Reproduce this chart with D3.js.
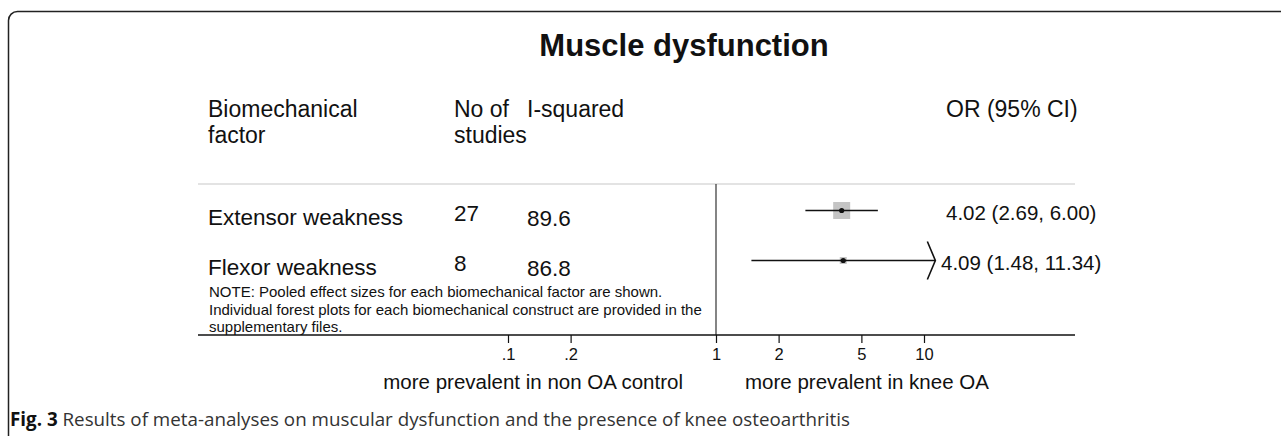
<!DOCTYPE html>
<html>
<head>
<meta charset="utf-8">
<script src="https://cdn.jsdelivr.net/npm/d3@7"></script>
<style>
  body { margin: 0; background: #fff; }
  svg { display: block; }
  .txt { font-family: 'Liberation Sans', Arial, sans-serif; fill: #111; }
</style>
</head>
<body>
<div id="chart"></div>
<script>
// pooled estimates, one row per biomechanical factor
const factors = ['Extensor weakness', 'Flexor weakness']
const nStudies = ['27', '8']
const iSquared = ['89.6', '86.8']
const orValues = [4.02, 4.09]
const ciLow = [2.69, 1.48]
const ciHigh = [6.00, 11.34]
const weights = [85.5, 14.5]

const tickValues = [0.1, 0.2, 1, 2, 5, 10]
const tickLabels = ['.1', '.2', '1', '2', '5', '10']
const axisTop = 10

const headers = [
  { lines: ['Biomechanical', 'factor'], x: 208 },
  { lines: ['No of', 'studies'], x: 454 },
  { lines: ['I-squared'], x: 527 },
  { lines: ['OR (95% CI)'], x: 946 }
]
const noteLines = [
  'NOTE: Pooled effect sizes for each biomechanical factor are shown.',
  'Individual forest plots for each biomechanical construct are provided in the',
  'supplementary files.'
]

const W = 1281, H = 436
const plotLeft = 198, plotRight = 1075
const ruleY = 184, axisY = 335

const fmt = d3.format('.2f')

const svg = d3.select('#chart')
  .append('svg')
  .attr('width', W)
  .attr('height', H)

// frame round the figure
svg.append('rect')
  .attr('x', 8.5).attr('y', 11.5)
  .attr('width', 1320).attr('height', 460)
  .attr('rx', 9)
  .attr('fill', 'none')
  .attr('stroke', '#222')
  .attr('stroke-width', 1.5)

svg.append('text')
  .classed('txt', true)
  .attr('x', 684).attr('y', 56)
  .attr('text-anchor', 'middle')
  .style('font-size', '31px')
  .style('font-weight', 'bold')
  .text('Muscle dysfunction')

// column headers
headers.forEach(h => {
  const t = svg.append('text')
    .classed('txt', true)
    .attr('y', 117)
    .style('font-size', '23px')
  h.lines.forEach((l, i) => {
    t.append('tspan')
      .attr('x', h.x)
      .attr('dy', i ? 26 : 0)
      .text(l)
  })
})

const x = d3.scaleLog()
  .domain([0.1, 10])
  .range([508, 924])

const y = d3.scalePoint()
  .domain(factors)
  .range([210.5, 260.5])

const boxSize = d3.scaleSqrt()
  .domain([0, d3.max(weights)])
  .range([0, 17])

// top rule and null line
svg.append('line')
  .attr('x1', plotLeft).attr('x2', plotRight)
  .attr('y1', ruleY).attr('y2', ruleY)
  .attr('stroke', '#c8c8c8')
  .attr('stroke-width', 1.2)

svg.append('line')
  .attr('x1', x(1)).attr('x2', x(1))
  .attr('y1', ruleY).attr('y2', axisY)
  .attr('stroke', '#333')
  .attr('stroke-width', 1.2)

const rows = factors.map((f, i) => ({
  name: f, n: nStudies[i], i2: iSquared[i],
  or: orValues[i], lo: ciLow[i], hi: ciHigh[i], w: weights[i]
}))

const row = svg.selectAll('g.row')
  .data(rows)
  .enter().append('g')
  .classed('row', true)

row.append('text')
  .classed('txt', true)
  .attr('x', 208)
  .attr('y', d => y(d.name) + 14)
  .style('font-size', '22.5px')
  .text(d => d.name)

row.append('text')
  .classed('txt', true)
  .attr('x', 454)
  .attr('y', d => y(d.name) + 10.5)
  .style('font-size', '22.5px')
  .text(d => d.n)

row.append('text')
  .classed('txt', true)
  .attr('x', 527)
  .attr('y', d => y(d.name) + 15)
  .style('font-size', '22.5px')
  .text(d => d.i2)

row.append('text')
  .classed('txt', true)
  .attr('x', d => d.hi > axisTop ? 941 : 946)
  .attr('y', d => y(d.name) + 9)
  .style('font-size', '20.5px')
  .text(d => fmt(d.or) + ' (' + fmt(d.lo) + ', ' + fmt(d.hi) + ')')

row.append('rect')
  .attr('x', d => x(d.or) - boxSize(d.w) / 2)
  .attr('y', d => y(d.name) - boxSize(d.w) / 2)
  .attr('width', d => boxSize(d.w))
  .attr('height', d => boxSize(d.w))
  .attr('fill', '#c4c4c4')

row.append('line')
  .attr('x1', d => x(d.lo)).attr('x2', d => x(d.hi))
  .attr('y1', d => y(d.name)).attr('y2', d => y(d.name))
  .attr('stroke', '#111')
  .attr('stroke-width', 1.6)

row.append('circle')
  .attr('cx', d => x(d.or))
  .attr('cy', d => y(d.name))
  .attr('r', 2.6)
  .attr('fill', '#111')

// open arrowhead where the interval runs past the last tick
row.filter(d => d.hi > axisTop)
  .append('path')
  .attr('d', d => {
    const tx = x(d.hi), ty = y(d.name)
    return 'M' + (tx - 8) + ',' + (ty - 19) + 'L' + tx + ',' + ty + 'L' + (tx - 8) + ',' + (ty + 19)
  })
  .attr('fill', 'none')
  .attr('stroke', '#111')
  .attr('stroke-width', 1.6)

// note
const note = svg.append('text')
  .classed('txt', true)
  .attr('y', 297)
  .style('font-size', '15px')
noteLines.forEach((l, i) => {
  note.append('tspan')
    .attr('x', 209)
    .attr('dy', i ? 17.5 : 0)
    .text(l)
})

// x axis
svg.append('line')
  .attr('x1', plotLeft).attr('x2', plotRight)
  .attr('y1', axisY).attr('y2', axisY)
  .attr('stroke', '#111')
  .attr('stroke-width', 1.6)

const xAxis = d3.axisBottom(x)
  .tickValues(tickValues)
  .tickFormat((d, i) => tickLabels[i])
  .tickSize(8)
  .tickSizeOuter(0)
  .tickPadding(5)

const xGuide = svg.append('g')
  .attr('transform', 'translate(0,' + axisY + ')')
  .call(xAxis)
xGuide.select('.domain').remove()
xGuide.selectAll('line').attr('stroke', '#111').attr('stroke-width', 1.2)
xGuide.selectAll('text')
  .attr('fill', '#111')
  .style('font-family', "'Liberation Sans', Arial, sans-serif")
  .style('font-size', '16.5px')

svg.append('text')
  .classed('txt', true)
  .attr('x', 683).attr('y', 389)
  .attr('text-anchor', 'end')
  .style('font-size', '20.5px')
  .text('more prevalent in non OA control')

svg.append('text')
  .classed('txt', true)
  .attr('x', 745).attr('y', 389)
  .style('font-size', '20.5px')
  .text('more prevalent in knee OA')

// caption
const cap = svg.append('text')
  .attr('x', 10).attr('y', 426)
  .style('font-family', "'Open Sans', sans-serif")
  .style('font-size', '18.8px')
  .attr('fill', '#333')
cap.append('tspan')
  .style('font-weight', 'bold')
  .attr('fill', '#111')
  .text('Fig. 3')
cap.append('tspan')
  .text(' Results of meta-analyses on muscular dysfunction and the presence of knee osteoarthritis')
</script>
</body>
</html>
